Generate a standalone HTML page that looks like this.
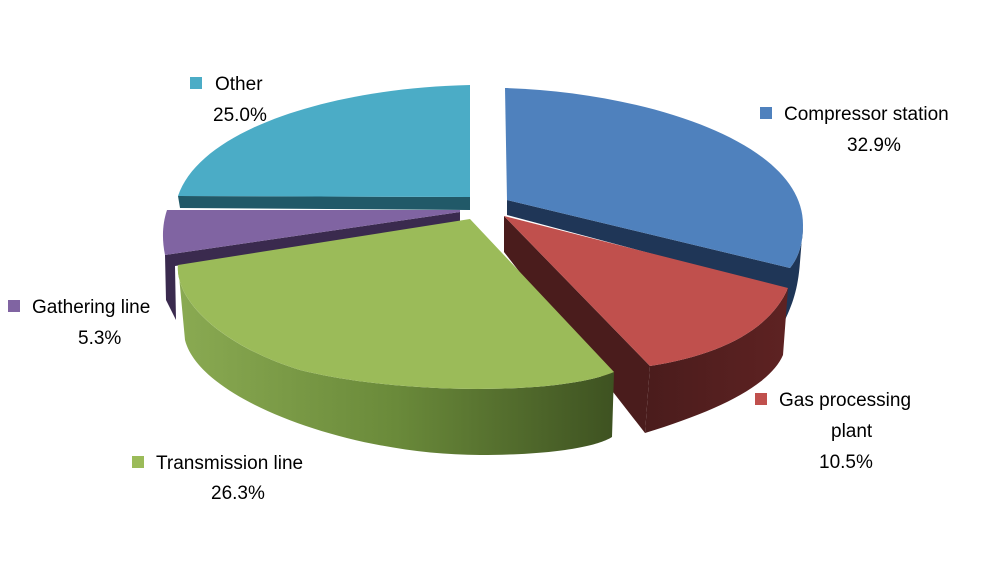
<!DOCTYPE html>
<html><head><meta charset="utf-8"><style>
html,body{margin:0;padding:0;background:#fff;}
svg{display:block}
text{font-family:"Liberation Sans",sans-serif;font-size:19px;fill:#000}
</style></head><body>
<svg width="1000" height="572" viewBox="0 0 1000 572" xmlns="http://www.w3.org/2000/svg">
<defs>
<linearGradient id="gs" x1="0" x2="1" y1="0" y2="0">
<stop offset="0" stop-color="#8aaa52"/><stop offset="0.5" stop-color="#6a8a3a"/><stop offset="1" stop-color="#3e5221"/>
</linearGradient>
<linearGradient id="rs" x1="0" x2="1" y1="0" y2="0">
<stop offset="0" stop-color="#4a1c1c"/><stop offset="1" stop-color="#5e2222"/>
</linearGradient>
</defs>
<!-- blue -->
<path d="M507,200 L790,268 C798,258 803,245 803,225 L800,262 C798,290 792,305 785,320 L787,290 L507,215 Z" fill="#1f3657"/>
<path d="M507,200 L505,88 C640,92 803,140 803,225 C803,245 798,258 790,268 Z" fill="#4f81bd"/>
<!-- red -->
<path d="M788,288 C770,330 720,355 650,366 L645,433 C720,410 770,385 783,355 Z" fill="url(#rs)"/>
<path d="M504,216 L650,366 L645,433 L504,252 Z" fill="#4a1c1c"/>
<path d="M504,216 L788,288 C770,330 720,355 650,366 Z" fill="#c0504d"/>
<!-- cyan -->
<path d="M178,196 L470,197 L470,210 L180,208 Z" fill="#215968"/>
<path d="M470,197 L470,85 C330,88 200,130 178,196 Z" fill="#4bacc6"/>
<!-- purple -->
<path d="M165,255 L460,212 L460,224 L175,266 L176,320 L166,300 Z" fill="#3a2a4e"/>
<path d="M460,210 L167,210 C162,225 162,240 165,255 L460,212 Z" fill="#8064a2"/>
<!-- green -->
<path d="M614,372 C560,395 400,395 300,370 C220,345 175,300 178,265 L185,340 C200,400 350,455 480,455 C560,455 600,445 612,437 Z" fill="url(#gs)"/>
<path d="M470,219 L614,372 C560,395 400,395 300,370 C220,345 175,300 178,265 Z" fill="#9bbb59"/>
<!-- labels -->
<rect x="190" y="77" width="12" height="12" fill="#4bacc6"/>
<text x="215" y="90">Other</text>
<text x="213" y="121">25.0%</text>
<rect x="760" y="107" width="12" height="12" fill="#4f81bd"/>
<text x="784" y="120">Compressor station</text>
<text x="847" y="151">32.9%</text>
<rect x="8" y="300" width="12" height="12" fill="#8064a2"/>
<text x="32" y="313">Gathering line</text>
<text x="78" y="344">5.3%</text>
<rect x="755" y="393" width="12" height="12" fill="#c0504d"/>
<text x="779" y="406">Gas processing</text>
<text x="831" y="437">plant</text>
<text x="819" y="468">10.5%</text>
<rect x="132" y="456" width="12" height="12" fill="#9bbb59"/>
<text x="156" y="469">Transmission line</text>
<text x="211" y="499">26.3%</text>
</svg>
</body></html>
